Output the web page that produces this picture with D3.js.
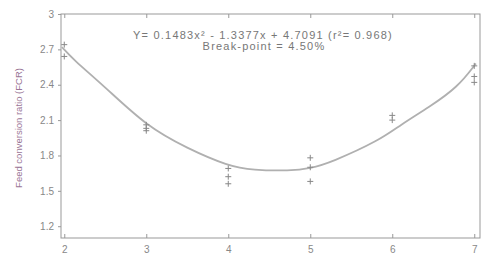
<!DOCTYPE html>
<html lang="en">
<head>
    <meta charset="UTF-8">
    <title>FCR</title>
    <style>
        body { margin: 0; background: #fff; }
        svg { display: block; font-family: "Liberation Sans", Arial, sans-serif; }
    </style>
</head>
<body>
    <svg width="486" height="254"></svg>
    <script src="https://cdnjs.cloudflare.com/ajax/libs/d3/7.8.5/d3.min.js"></script>
    <script>
        // x ticks and y ticks
        var xTicks = [2, 3, 4, 5, 6, 7]
        var yTicks = [1.2, 1.5, 1.8, 2.1, 2.4, 2.7, 3]

        var pointX = [2, 2, 3, 3, 3, 4, 4, 4, 5, 5, 5, 6, 6, 7, 7, 7]
        var pointY = [2.74, 2.64, 2.06, 2.03, 2.01, 1.69, 1.62, 1.56, 1.78, 1.70, 1.58, 2.14, 2.10, 2.56, 2.47, 2.42]

        // fitted curve as drawn in the figure
        var curveX = [1.97, 2.1, 2.5, 3.0, 3.5, 4.0, 4.3, 4.75, 5.0, 5.25, 5.85, 6.1, 6.45, 6.8, 7.02]
        var curveY = [2.72, 2.62, 2.38, 2.05, 1.86, 1.71, 1.675, 1.67, 1.69, 1.74, 1.93, 2.06, 2.21, 2.38, 2.58]

        var eqLine = 'Y= 0.1483x\u00b2 - 1.3377x + 4.7091 (r\u00b2= 0.968)'
        var bpLine = 'Break-point = 4.50%'
        var yLabel = 'Feed conversion ratio (FCR)'

        var svg = d3.select('svg')
        var mLeft = 61, mRight = 480, mTop = 14, mBottom = 238
        var grey = '#999'

        var x = d3.scaleLinear().domain([1.96, 7.07]).range([mLeft, mRight])
        var y = d3.scaleLinear().domain([1.1, 3]).range([mBottom, mTop])

        // frame
        svg.append('rect')
            .attr('x', mLeft).attr('y', mTop)
            .attr('width', mRight - mLeft).attr('height', mBottom - mTop)
            .attr('fill', 'none')
            .attr('stroke', grey)
            .attr('stroke-width', 1)

        // bottom axis
        svg.append('g')
            .attr('transform', 'translate(0,' + mBottom + ')')
            .call(d3.axisBottom(x).tickValues(xTicks).tickSize(-4).tickPadding(8).tickFormat(d3.format('d')))
        // top ticks
        svg.append('g')
            .attr('transform', 'translate(0,' + mTop + ')')
            .call(d3.axisTop(x).tickValues(xTicks).tickSize(-4).tickFormat(''))
        // left axis
        svg.append('g')
            .attr('transform', 'translate(' + mLeft + ',0)')
            .call(d3.axisLeft(y).tickValues(yTicks).tickSize(3).tickPadding(4).tickFormat(function(d){ return d == 3 ? '3' : d3.format('.1f')(d) }))

        svg.selectAll('.domain').attr('stroke', 'none')
        svg.selectAll('.tick line').attr('stroke', grey)
        svg.selectAll('.tick text')
            .attr('fill', '#888')
            .style('font-size', '10px')

        // y label
        svg.append('text')
            .attr('transform', 'translate(22,' + ((mTop + mBottom) / 2 + 2) + ') rotate(-90)')
            .attr('text-anchor', 'middle')
            .attr('fill', '#9a7596')
            .style('font-size', '9.5px')
            .text(yLabel)

        // fitted curve
        var curveData = curveX.map(function(d, i){ return [d, curveY[i]] })
        svg.append('path')
            .datum(curveData)
            .attr('fill', 'none')
            .attr('stroke', '#b0b0b0')
            .attr('stroke-width', 1.8)
            .attr('d', d3.line()
                .x(function(d){ return x(d[0]) })
                .y(function(d){ return y(d[1]) })
                .curve(d3.curveBasis))

        // point markers (+)
        var pts = svg.append('g').selectAll('g')
            .data(pointX.map(function(d, i){ return [d, pointY[i]] }))
            .enter()
            .append('g')
            .attr('transform', function(d){ return 'translate(' + x(d[0]) + ',' + y(d[1]) + ')' })
        pts.append('line')
            .attr('x1', -3).attr('x2', 3).attr('y1', 0).attr('y2', 0)
            .attr('stroke', '#888').attr('stroke-width', 1)
        pts.append('line')
            .attr('x1', 0).attr('x2', 0).attr('y1', -3).attr('y2', 3)
            .attr('stroke', '#888').attr('stroke-width', 1)

        // equation text
        svg.append('text')
            .attr('x', 263).attr('y', 39)
            .attr('text-anchor', 'middle')
            .attr('fill', '#777')
            .style('font-size', '11px')
            .style('letter-spacing', '1.2px')
            .text(eqLine)
        svg.append('text')
            .attr('x', 264).attr('y', 50)
            .attr('text-anchor', 'middle')
            .attr('fill', '#777')
            .style('font-size', '11px')
            .style('letter-spacing', '1.2px')
            .text(bpLine)
    </script>
</body>
</html>
